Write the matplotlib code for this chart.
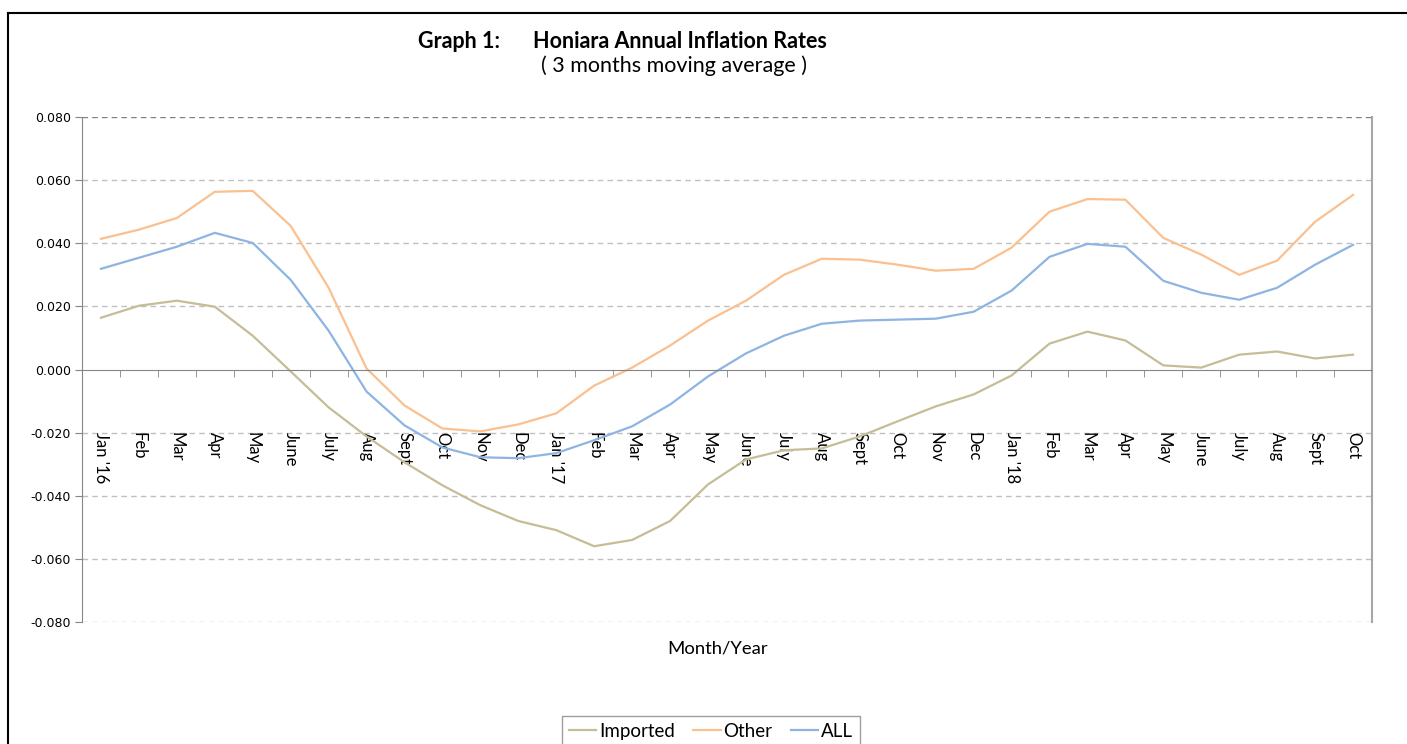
import numpy as np
import matplotlib
matplotlib.use("Agg")
import matplotlib.pyplot as plt
from matplotlib.lines import Line2D
from matplotlib.ticker import FuncFormatter, FixedLocator

# Etiquetas de los meses
meses = ["Jan '16", "Feb", "Mar", "Apr", "May", "June", "July", "Aug", "Sept", "Oct", "Nov", "Dec",
         "Jan '17", "Feb", "Mar", "Apr", "May", "June", "July", "Aug", "Sept", "Oct", "Nov", "Dec",
         "Jan '18", "Feb", "Mar", "Apr", "May", "June", "July", "Aug", "Sept", "Oct"]

# Series
imported = [0.0164, 0.0202, 0.0218, 0.0199, 0.0107, -0.0006, -0.0120, -0.0212, -0.0294, -0.0367,
            -0.0430, -0.0480, -0.0509, -0.0560, -0.0540, -0.0480, -0.0364, -0.0285, -0.0256, -0.0250,
            -0.0212, -0.0164, -0.0117, -0.0079, -0.0019, 0.0082, 0.0120, 0.0092, 0.0013, 0.0006,
            0.0047, 0.0057, 0.0035, 0.0047]
other = [0.0414, 0.0443, 0.0480, 0.0563, 0.0566, 0.0455, 0.0259, 0.0003, -0.0114, -0.0187,
         -0.0196, -0.0174, -0.0139, -0.0051, 0.0006, 0.0076, 0.0155, 0.0218, 0.0300, 0.0351,
         0.0348, 0.0332, 0.0313, 0.0319, 0.0386, 0.0500, 0.0540, 0.0538, 0.0417, 0.0364,
         0.0300, 0.0345, 0.0468, 0.0553]
all_items = [0.0319, 0.0354, 0.0389, 0.0433, 0.0401, 0.0284, 0.0123, -0.0070, -0.0177, -0.0247,
             -0.0278, -0.0281, -0.0265, -0.0224, -0.0180, -0.0111, -0.0022, 0.0051, 0.0107, 0.0145,
             0.0155, 0.0158, 0.0161, 0.0183, 0.0250, 0.0357, 0.0398, 0.0389, 0.0281, 0.0243,
             0.0221, 0.0259, 0.0332, 0.0395]

plt.rcParams['axes.unicode_minus'] = False

W, H = 1407, 744
fig = plt.figure(figsize=(W / 100, H / 100), dpi=100)
ax = fig.add_axes([82 / W, 1 - 622 / H, (1372 - 82) / W, (622 - 117) / H])

x = np.arange(len(meses))
ax.plot(x, imported, color="#C4BD97", lw=1.6, label="Imported")
ax.plot(x, other, color="#FAC090", lw=1.6, label="Other")
ax.plot(x, all_items, color="#8EB4E3", lw=1.6, label="ALL")

ax.set_xlim(-0.5, len(meses) - 0.5)
ax.set_ylim(-0.08, 0.08)

# Lineas de grilla
for v in [-0.08, -0.06, -0.04, -0.02, 0.02, 0.04, 0.06, 0.08]:
    col = "#808080" if v == 0.08 else "#C0C0C0"
    ax.axhline(v, color=col, lw=1, ls=(0, (4, 3)), zorder=0)

ax.spines['top'].set_visible(False)
ax.spines['bottom'].set_position(('data', 0))
ax.spines['bottom'].set_color("#868686")
ax.spines['left'].set_color("#868686")
ax.spines['right'].set_color("#A6A6A6")
ax.spines['right'].set_linewidth(1.5)

ax.set_yticks([-0.08, -0.06, -0.04, -0.02, 0.0, 0.02, 0.04, 0.06, 0.08])
ax.yaxis.set_major_formatter(FuncFormatter(lambda v, p: f"{v:.3f}"))
ax.tick_params(axis='y', length=5, color="#868686", labelsize=9, pad=3)

ax.xaxis.set_major_locator(FixedLocator(x))
ax.set_xticklabels(meses, rotation=270, fontsize=12, family="Lato", va="top", ha="center")
ax.tick_params(axis='x', which='major', length=0, pad=45)
ax.xaxis.set_minor_locator(FixedLocator(np.arange(-0.5, len(meses), 1.0)))
ax.tick_params(axis='x', which='minor', length=5, color="#868686", direction='out')

# Titulos
fig.text(418 / W, 1 - 41 / H, "Graph 1:", fontsize=15.5, fontweight="bold", family="Lato",
         ha="left", va="center")
fig.text(533 / W, 1 - 41 / H, "Honiara Annual Inflation Rates", fontsize=15.5, fontweight="bold",
         family="Lato", ha="left", va="center")
fig.text(674 / W, 1 - 66 / H, "( 3 months moving average )", fontsize=15.5, family="Lato",
         ha="center", va="center")
fig.text(718 / W, 1 - 649 / H, "Month/Year", fontsize=13.3, family="Lato", ha="center", va="center")

leg = fig.legend(loc="upper center", bbox_to_anchor=(711 / W, 1 - 716 / H), ncol=3,
                 frameon=True, fancybox=False, edgecolor="#868686", prop={"family": "Lato", "size": 13.5},
                 handlelength=1.45, handletextpad=0.15, columnspacing=1.0, borderpad=0.35,
                 borderaxespad=0)
leg.get_frame().set_linewidth(1)

# Marco exterior
fig.add_artist(Line2D([8 / W, 8 / W], [0, 1 - 13 / H], color="black", lw=1.5))
fig.add_artist(Line2D([8 / W, 1], [1 - 13 / H, 1 - 13 / H], color="black", lw=1.5))

fig.savefig("out.png", dpi=100)
